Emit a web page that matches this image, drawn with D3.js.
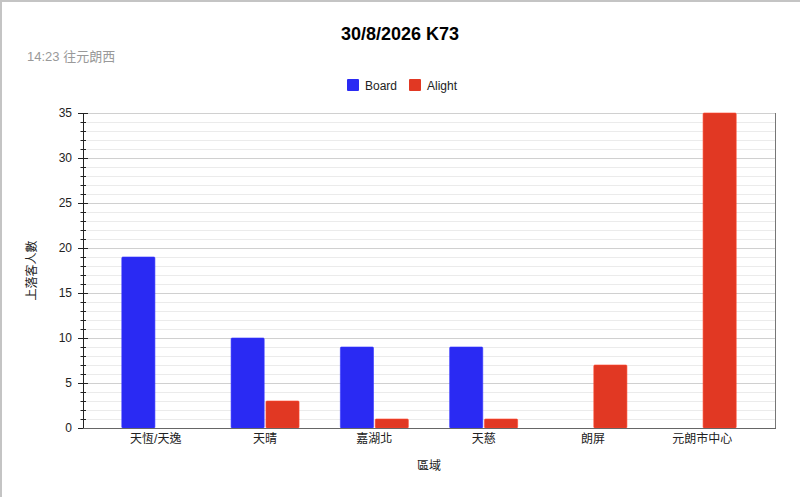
<!DOCTYPE html>
<html lang="zh-Hant">
<head>
    <meta charset="UTF-8">
    <title>30/8/2026 K73</title>
    <script src="https://d3js.org/d3.v7.min.js"></script>
    <style>
        body { margin: 0; padding: 0; background: #fff; overflow: hidden; }
        .frame { position: absolute; left: 0; top: 0; width: 900px; height: 600px; border: 2px solid #c4c4c4; box-sizing: border-box; }
        svg { position: absolute; left: 0; top: 0; font-family: "Liberation Sans", Arial, "Noto Sans CJK TC", sans-serif; }
        .grid-minor { stroke: #ebebeb; stroke-width: 1; }
        .grid-major { stroke: #d0d0d0; stroke-width: 1; }
        .tick-label { font-size: 12px; fill: #222; }
    </style>
</head>
<body>
    <div class="frame"></div>
    <svg width="800" height="497"></svg>

    <script>
        // chart data
        const categories = ["天恆/天逸", "天晴", "嘉湖北", "天慈", "朗屏", "元朗市中心"];
        const seriesNames = ["Board", "Alight"];
        const boardValues = [19, 10, 9, 9, 0, 0];
        const alightValues = [0, 3, 1, 1, 7, 35];
        const yTicks = [0, 5, 10, 15, 20, 25, 30, 35];
        const colors = ["#2a2af3", "#e13823"];

        const svg = d3.select("svg");
        const plotLeft = 83, plotRight = 775, plotTop = 113, plotBottom = 428;

        const x = d3.scaleBand().domain(categories).range([plotLeft, plotRight])
            .paddingInner(0.378).paddingOuter(0.355);
        const xSub = d3.scaleBand().domain(seriesNames).range([0, x.bandwidth()]).paddingInner(0.05);
        const y = d3.scaleLinear().domain([0, 35]).range([plotBottom, plotTop]);

        // gridlines (every unit, darker every 5)
        const gridVals = d3.range(1, 36);
        svg.append("g").selectAll("line")
            .data(gridVals)
            .enter().append("line")
            .attr("class", d => d % 5 === 0 ? "grid-major" : "grid-minor")
            .attr("x1", plotLeft).attr("x2", plotRight)
            .attr("y1", d => Math.round(y(d)) + 0.5)
            .attr("y2", d => Math.round(y(d)) + 0.5);

        // bars
        const rows = categories.map((c, i) => ({ cat: c, values: [boardValues[i], alightValues[i]] }));
        const group = svg.append("g").selectAll("g")
            .data(rows)
            .enter().append("g")
            .attr("transform", d => `translate(${x(d.cat)},0)`);

        group.selectAll("rect")
            .data(d => d.values.map((v, k) => ({ name: seriesNames[k], value: v, k })).filter(e => e.value > 0))
            .enter().append("rect")
            .attr("x", d => xSub(d.name))
            .attr("width", xSub.bandwidth())
            .attr("y", d => y(d.value))
            .attr("height", d => y(0) - y(d.value))
            .attr("rx", 1)
            .attr("fill", d => colors[d.k])
            .attr("stroke", d => d3.color(colors[d.k]).brighter(0.6))
            .attr("stroke-width", 0.6);

        // y axis with minor ticks
        const yAxis = svg.append("g");
        yAxis.append("line")
            .attr("x1", plotLeft + 0.5).attr("x2", plotLeft + 0.5)
            .attr("y1", plotTop).attr("y2", plotBottom)
            .attr("stroke", "#222");
        yAxis.selectAll("line.minor")
            .data(d3.range(0, 36))
            .enter().append("line")
            .attr("class", "minor")
            .attr("x1", d => d % 5 === 0 ? plotLeft - 5 : plotLeft - 2.5)
            .attr("x2", d => d % 5 === 0 ? plotLeft + 5 : plotLeft + 3)
            .attr("y1", d => Math.round(y(d)) + 0.5)
            .attr("y2", d => Math.round(y(d)) + 0.5)
            .attr("stroke", "#222");
        yAxis.selectAll("text")
            .data(yTicks)
            .enter().append("text")
            .attr("class", "tick-label")
            .attr("x", plotLeft - 11)
            .attr("y", d => y(d) + 4)
            .attr("text-anchor", "end")
            .text(d => d);

        // x axis line and right edge
        svg.append("line")
            .attr("x1", plotLeft).attr("x2", plotRight + 1)
            .attr("y1", plotBottom + 0.5).attr("y2", plotBottom + 0.5)
            .attr("stroke", "#666");
        svg.append("line")
            .attr("x1", plotRight + 0.5).attr("x2", plotRight + 0.5)
            .attr("y1", plotTop).attr("y2", plotBottom)
            .attr("stroke", "#777");

        svg.append("g").selectAll("text")
            .data(categories)
            .enter().append("text")
            .attr("class", "tick-label")
            .attr("x", d => x(d) + x.bandwidth() / 2)
            .attr("y", plotBottom + 15)
            .attr("text-anchor", "middle")
            .text(d => d);

        // axis titles
        svg.append("text")
            .attr("x", (plotLeft + plotRight) / 2)
            .attr("y", 470)
            .attr("text-anchor", "middle")
            .attr("font-size", 12)
            .attr("fill", "#222")
            .text("區域");

        svg.append("text")
            .attr("transform", `translate(36,${(plotTop + plotBottom) / 2}) rotate(-90)`)
            .attr("text-anchor", "middle")
            .attr("font-size", 12)
            .attr("fill", "#222")
            .text("上落客人數");

        // title and subtitle
        svg.append("text")
            .attr("x", 400)
            .attr("y", 40)
            .attr("text-anchor", "middle")
            .attr("font-size", 18)
            .attr("font-weight", "bold")
            .attr("fill", "#000")
            .text("30/8/2026 K73");

        svg.append("text")
            .attr("x", 27)
            .attr("y", 61)
            .attr("font-size", 13)
            .attr("fill", "#999")
            .text("14:23 往元朗西");

        // legend
        const legendX = [347, 409];
        const legend = svg.append("g").selectAll("g")
            .data(seriesNames)
            .enter().append("g")
            .attr("transform", (d, i) => `translate(${legendX[i]},79)`);
        legend.append("rect")
            .attr("width", 12).attr("height", 12)
            .attr("rx", 1)
            .attr("fill", (d, i) => colors[i]);
        legend.append("text")
            .attr("x", 18)
            .attr("y", 10.5)
            .attr("font-size", 12)
            .attr("fill", "#222")
            .text(d => d);
    </script>
</body>
</html>
